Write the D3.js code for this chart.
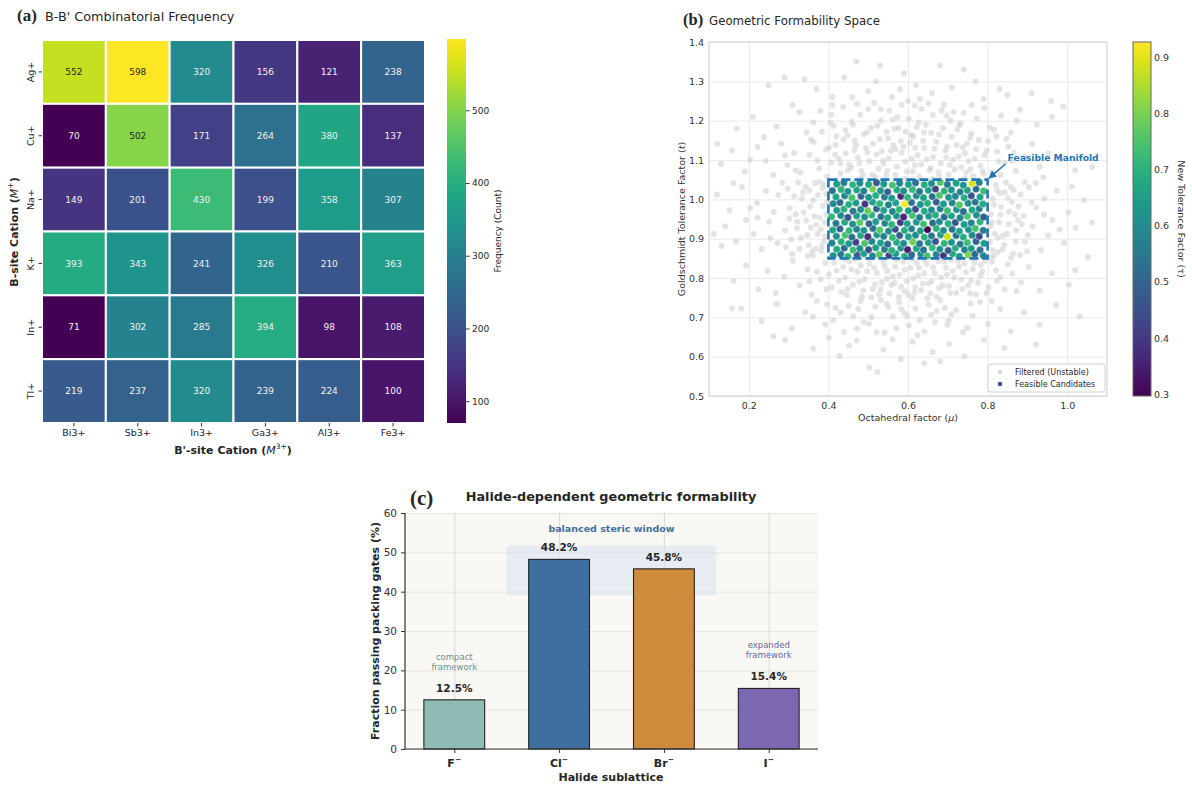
<!DOCTYPE html>
<html>
<head>
<meta charset="utf-8">
<script src="https://cdn.jsdelivr.net/npm/d3@7"></script>
<style>
body { margin: 0; background: #fff; }
text { font-family: "DejaVu Sans", sans-serif; fill: #262626; }
.serif { font-family: "Liberation Serif", serif; font-weight: bold; }
</style>
</head>
<body>
<svg id="fig" width="1192" height="788"></svg>
<script>
// ---------- data: panel (a)
var bSite = ["Ag+", "Cu+", "Na+", "K+", "In+", "Tl+"];
var bPrime = ["Bi3+", "Sb3+", "In3+", "Ga3+", "Al3+", "Fe3+"];
var freq = [
  [552, 598, 320, 156, 121, 238],
  [70, 502, 171, 264, 380, 137],
  [149, 201, 430, 199, 358, 307],
  [393, 343, 241, 326, 210, 363],
  [71, 302, 285, 394, 98, 108],
  [219, 237, 320, 239, 224, 100]
];
var freqTicks = [100, 200, 300, 400, 500];

// ---------- data: panel (b)  [mu, t]
var filteredPts = [
  [.47,1.35],[.53,1.34],[.68,1.34],[.74,1.33],[.44,1.31],[.59,1.32],[.29,1.31],[.62,1.29],[.77,1.3],[.83,1.28],[.37,1.28],[.66,1.27],[.71,1.285],[.50,1.275],[.56,1.26],[.85,1.265],[.63,1.255],[.41,1.26],[.91,1.27],[.25,1.29],[.58,1.28],[.34,1.305],[.79,1.255],[.52,1.3],[.96,1.25],[.46,1.26],
  [.21,1.21],[.27,1.185],[.31,1.24],[.345,1.17],[.38,1.225],[.405,1.195],[.42,1.16],[.437,1.235],[.462,1.19],[.48,1.215],[.497,1.17],[.515,1.245],[.532,1.2],[.553,1.225],[.566,1.18],[.584,1.24],[.602,1.205],[.613,1.16],[.634,1.23],[.645,1.19],[.662,1.215],[.678,1.165],[.69,1.24],[.707,1.2],[.724,1.178],[.74,1.22],[.756,1.156],[.773,1.205],[.792,1.232],[.805,1.182],[.834,1.213],[.858,1.17],[.881,1.228],[.924,1.19],[.962,1.21],[.238,1.158],[.362,1.196],[.448,1.162],[.523,1.187],[.594,1.172],[.652,1.244],[.715,1.222],[.822,1.16],[.99,1.236],[.17,1.18],[.561,1.203],[.622,1.184],[.684,1.226],[.472,1.243],[.733,1.193],[.873,1.2],[.327,1.222],[.55,1.155],[.6,1.25],[.76,1.24],[.5,1.23],[.41,1.24],[.64,1.17],
  [.13,1.09],[.158,1.124],[.19,1.071],[.222,1.133],[.243,1.098],[.262,1.062],[.281,1.142],[.297,1.087],[.314,1.118],[.33,1.068],[.352,1.113],[.363,1.146],[.377,1.079],[.394,1.127],[.408,1.094],[.418,1.139],[.431,1.066],[.443,1.117],[.452,1.088],[.466,1.149],[.474,1.106],[.483,1.072],[.494,1.131],[.503,1.097],[.512,1.141],[.526,1.078],[.534,1.122],[.545,1.061],[.551,1.104],[.563,1.137],[.572,1.083],[.584,1.119],[.593,1.096],[.605,1.144],[.612,1.071],[.624,1.112],[.633,1.089],[.641,1.131],[.654,1.074],[.663,1.108],[.671,1.147],[.683,1.092],[.694,1.124],[.702,1.063],[.713,1.101],[.722,1.138],[.734,1.081],[.743,1.118],[.752,1.097],[.764,1.059],[.771,1.128],[.782,1.086],[.793,1.113],[.801,1.148],[.812,1.069],[.824,1.121],[.843,1.093],[.852,1.134],[.871,1.072],[.893,1.109],[.912,1.141],[.931,1.083],[.953,1.117],[.984,1.101],[1.02,1.074],[.397,1.058],[.457,1.081],[.521,1.114],[.568,1.128],[.609,1.103],[.657,1.079],[.698,1.134],[.748,1.142],[.833,1.062],[.372,1.099],[.628,1.058],[.548,1.073],[.487,1.061],[.727,1.109],[.862,1.098],[.291,1.112],[.203,1.101],[.417,1.114],[.539,1.091],[.676,1.069],[.757,1.077],[.582,1.148],[.465,1.125],[.318,1.074],[.94,1.056],[.618,1.131],[.705,1.087],[.79,1.065],[.51,1.063],[.43,1.091],
  [.356,1.152],[.384,1.172],[.402,1.131],[.413,1.187],[.426,1.103],[.438,1.152],[.449,1.074],[.458,1.197],[.469,1.137],[.478,1.092],[.489,1.166],[.498,1.119],[.507,1.182],[.518,1.057],[.529,1.153],[.537,1.098],[.546,1.171],[.557,1.124],[.569,1.062],[.576,1.181],[.589,1.134],[.597,1.071],[.608,1.163],[.617,1.087],[.627,1.196],[.638,1.149],[.647,1.102],[.658,1.169],[.667,1.129],[.679,1.057],[.688,1.181],[.696,1.107],[.709,1.159],[.717,1.076],[.729,1.189],[.738,1.133],[.747,1.068],[.759,1.167],[.768,1.103],[.778,1.151],[.787,1.072],[.798,1.124],[.816,1.177],[.828,1.096],[.847,1.154],[.866,1.118],[.479,1.053],[.592,1.053],[.661,1.052],[.742,1.054],[.443,1.176],[.573,1.209],[.697,1.213],[.532,1.229],[.617,1.238],[.407,1.215],
  [.12,1.012],[.141,.931],[.152,.972],[.168,.893],[.183,1.031],[.193,.948],[.212,.912],[.221,.991],[.232,.874],[.243,1.021],[.251,.943],[.263,.968],[.272,.889],[.284,1.042],[.291,.921],[.303,.978],[.309,.861],[.314,1.008],[.322,.943],[.331,.902],[.338,.967],[.343,1.032],[.351,.883],[.356,.928],[.362,.998],[.365,.957],[.373,.912],[.377,1.044],[.382,.869],[.386,.983],[.391,.941],[.394,1.014],[.389,.893],[.361,.857],[.333,1.002],[.302,.951],[.274,1.011],[.203,.978],[.161,1.041],[.132,.882],[.293,.878],[.324,1.043],[.381,.924],[.352,1.022],[.254,.901],[.222,.953],[.368,.874],[.395,.962],[.344,.946],[.385,1.028],
  [.306,.898],[.318,.962],[.327,.874],[.336,1.018],[.347,.909],[.354,.982],[.359,.867],[.369,.936],[.374,1.011],[.379,.953],[.383,.881],[.388,1.038],[.392,.906],[.397,.993],[.366,1.041],[.348,.856],[.321,.927],[.298,1.027],
  [.812,.871],[.809,.962],[.823,1.024],[.818,.913],[.834,.981],[.842,.884],[.846,1.043],[.853,.937],[.861,.993],[.864,.862],[.872,.921],[.883,1.012],[.891,.958],[.894,.892],[.904,1.031],[.913,.931],[.922,.979],[.934,.871],[.943,1.002],[.952,.908],[.963,.948],[.974,1.022],[.992,.889],[1.003,.967],[1.021,.928],[1.042,.998],[1.062,.941],[.829,.942],[.851,1.003],[.869,.962],[.882,.858],[.901,.909],[.921,1.041],[.942,.961],[.981,.923],[1.012,1.032],[.813,1.002],[.838,.908],[.858,1.031],[.911,.992],[.808,.853],[.826,.866],[.877,.947],[.831,1.016],[.807,.931],
  [.806,.892],[.811,.941],[.816,.987],[.821,1.037],[.826,.902],[.832,.961],[.837,.873],[.843,1.018],[.848,.912],[.854,.969],[.859,.851],[.866,1.024],[.871,.892],[.878,.982],[.886,.937],[.893,1.044],[.899,.868],[.816,.856],
  [.162,.793],[.193,.832],[.224,.771],[.247,.818],[.268,.762],[.289,.803],[.311,.844],[.328,.781],[.347,.822],[.358,.758],[.381,.797],[.392,.838],[.408,.776],[.421,.819],[.433,.764],[.442,.801],[.452,.842],[.461,.783],[.473,.816],[.484,.752],[.491,.797],[.503,.836],[.511,.772],[.522,.813],[.534,.789],[.541,.831],[.553,.761],[.562,.804],[.571,.846],[.583,.778],[.592,.821],[.601,.757],[.613,.799],[.622,.838],[.633,.769],[.641,.812],[.652,.786],[.663,.827],[.672,.753],[.683,.801],[.691,.841],[.703,.779],[.712,.818],[.721,.762],[.734,.796],[.742,.837],[.751,.781],[.763,.823],[.771,.758],[.782,.806],[.793,.843],[.802,.776],[.821,.819],[.843,.771],[.862,.811],[.884,.789],[.903,.828],[.931,.768],[.962,.812],[1.004,.783],[.481,.832],[.527,.758],[.579,.808],[.628,.826],[.678,.774],[.728,.829],[.566,.787],[.618,.776],[.448,.772],[.401,.809],[.659,.792],[.517,.784],[.698,.808],[.548,.818],[.758,.794],[.352,.791],[.592,.766],[.708,.846],[.437,.828],[.642,.847],[.783,.833],[.823,.793],
  [.371,.816],[.395,.772],[.414,.839],[.427,.793],[.446,.757],[.458,.822],[.467,.848],[.478,.791],[.488,.768],[.497,.817],[.508,.751],[.515,.826],[.531,.771],[.538,.843],[.547,.798],[.558,.782],[.568,.829],[.577,.752],[.588,.841],[.597,.792],[.606,.826],[.616,.763],[.626,.807],[.637,.786],[.647,.836],[.656,.761],[.667,.812],[.676,.842],[.687,.781],[.696,.826],[.706,.762],[.716,.801],[.726,.844],[.737,.772],[.746,.815],[.756,.761],[.767,.839],[.776,.788],[.787,.817],[.797,.762],[.811,.841],[.832,.802],[.851,.835],[.873,.767],[.503,.849],[.612,.848],[.688,.849],[.441,.848],[.765,.849],
  [.181,.722],[.232,.691],[.271,.734],[.308,.672],[.342,.713],[.371,.741],[.392,.682],[.418,.724],[.439,.663],[.462,.703],[.481,.742],[.502,.684],[.518,.727],[.541,.661],[.562,.702],[.578,.738],[.602,.679],[.619,.722],[.641,.664],[.658,.706],[.681,.743],[.699,.681],[.721,.718],[.738,.662],[.762,.704],[.781,.739],[.801,.683],[.832,.721],[.858,.664],[.892,.712],[.931,.681],[.972,.731],[.412,.692],[.532,.744],[.591,.711],[.652,.732],[.709,.708],[.472,.671],[.571,.672],[.629,.693],[.692,.724],[.748,.673],[.361,.702],[.508,.701],[.611,.748],[.551,.726],[.668,.688],[.451,.729],
  [.431,.712],[.489,.688],[.546,.735],[.598,.703],[.648,.748],[.702,.692],[.757,.735],[.521,.662],[.624,.655],[.583,.721],[.672,.716],[.397,.733],[.811,.742],[.475,.721],
  [.291,.643],[.362,.621],[.428,.602],[.471,.641],[.503,.572],[.538,.618],[.582,.594],[.611,.638],[.662,.612],[.703,.632],[.742,.601],[.791,.643],[.842,.622],[.921,.631],[.401,.648],[.561,.644],[.641,.583],[.452,.628],[.523,.561],[.681,.588],
  [.112,.912],[.121,1.141],[1.052,.853],[1.031,.702],[1.063,1.082],[.158,.723],[.262,.652],[1.02,.82]
];
// [mu, t, tau]
var feasiblePts = [
  [.412,.857,.62],[.431,.861,.55],[.449,.855,.71],[.472,.859,.48],[.489,.862,.66],[.511,.856,.58],[.528,.86,.77],[.552,.857,.43],[.569,.862,.64],[.591,.855,.69],[.609,.859,.52],[.632,.861,.6],[.648,.856,.74],[.671,.86,.57],[.689,.857,.39],[.712,.862,.67],[.729,.855,.63],[.751,.859,.81],[.768,.861,.5],[.789,.857,.59],
  [.421,.873,.68],[.44,.876,.51],[.462,.871,.73],[.479,.875,.6],[.501,.872,.45],[.519,.877,.65],[.541,.873,.56],[.559,.87,.7],[.582,.876,.62],[.599,.872,.35],[.621,.875,.66],[.639,.871,.54],[.661,.877,.72],[.68,.873,.61],[.701,.87,.47],[.719,.876,.69],[.742,.872,.58],[.759,.875,.64],[.781,.871,.53],
  [.409,.889,.57],[.432,.892,.7],[.451,.887,.63],[.469,.891,.42],[.491,.888,.75],[.509,.893,.59],[.531,.889,.66],[.549,.886,.51],[.571,.891,.68],[.589,.888,.6],[.612,.892,.79],[.629,.887,.55],[.651,.89,.64],[.669,.893,.46],[.691,.888,.71],[.709,.891,.62],[.731,.886,.56],[.749,.89,.73],[.771,.893,.49],[.791,.888,.65],
  [.42,.906,.61],[.442,.909,.74],[.459,.904,.53],[.481,.908,.67],[.499,.905,.38],[.522,.91,.63],[.539,.906,.57],[.561,.903,.72],[.579,.908,.48],[.601,.905,.65],[.619,.909,.6],[.641,.904,.7],[.659,.907,.55],[.682,.91,.64],[.699,.905,.88],[.721,.908,.52],[.739,.904,.68],[.761,.909,.59],[.779,.906,.44],
  [.411,.922,.66],[.429,.925,.49],[.452,.92,.71],[.471,.924,.58],[.489,.921,.63],[.512,.926,.54],[.529,.922,.76],[.551,.919,.61],[.568,.924,.45],[.591,.921,.69],[.609,.925,.57],[.631,.92,.65],[.649,.923,.297],[.671,.926,.7],[.689,.921,.6],[.711,.924,.53],[.729,.919,.67],[.752,.923,.62],[.769,.926,.74],[.789,.921,.56],
  [.419,.939,.55],[.441,.942,.68],[.461,.937,.61],[.479,.941,.77],[.502,.938,.5],[.519,.943,.64],[.542,.939,.58],[.559,.936,.71],[.581,.941,.41],[.598,.938,.66],[.621,.942,.62],[.639,.937,.73],[.662,.94,.52],[.679,.943,.6],[.701,.938,.69],[.719,.941,.47],[.741,.936,.64],[.759,.94,.57],[.781,.943,.7],
  [.408,.956,.72],[.431,.959,.59],[.449,.954,.46],[.471,.958,.65],[.491,.955,.6],[.509,.96,.71],[.532,.956,.53],[.549,.953,.67],[.571,.958,.62],[.589,.955,.36],[.611,.959,.74],[.629,.954,.56],[.652,.957,.63],[.669,.96,.69],[.691,.955,.51],[.709,.958,.66],[.731,.953,.58],[.749,.957,.75],[.772,.96,.61],[.79,.955,.48],
  [.421,.972,.63],[.439,.975,.7],[.462,.97,.55],[.481,.974,.61],[.499,.971,.78],[.521,.976,.49],[.539,.972,.66],[.561,.969,.59],[.578,.974,.72],[.601,.971,.64],[.619,.975,.44],[.641,.97,.68],[.659,.973,.6],[.681,.976,.57],[.699,.971,.73],[.722,.974,.62],[.739,.969,.52],[.761,.973,.67],[.779,.976,.58],
  [.412,.989,.6],[.429,.992,.52],[.451,.987,.69],[.469,.991,.63],[.492,.988,.4],[.511,.993,.66],[.529,.989,.71],[.551,.986,.57],[.569,.991,.65],[.592,.988,.927],[.609,.992,.54],[.631,.987,.62],[.649,.99,.7],[.671,.993,.48],[.689,.988,.64],[.711,.991,.59],[.729,.986,.76],[.751,.99,.61],[.769,.993,.55],[.788,.988,.68],
  [.419,1.006,.67],[.441,1.009,.58],[.459,1.004,.74],[.482,1.008,.5],[.501,1.005,.62],[.519,1.01,.69],[.541,1.006,.56],[.559,1.003,.64],[.582,1.008,.37],[.599,1.005,.71],[.621,1.009,.6],[.639,1.004,.66],[.661,1.007,.53],[.679,1.01,.75],[.702,1.005,.63],[.719,1.008,.58],[.741,1.004,.69],[.759,1.009,.45],[.781,1.006,.65],
  [.41,1.022,.54],[.432,1.025,.7],[.449,1.02,.61],[.471,1.024,.67],[.489,1.021,.57],[.511,1.026,.8],[.531,1.022,.63],[.549,1.019,.49],[.572,1.024,.68],[.589,1.021,.6],[.611,1.025,.72],[.629,1.02,.55],[.651,1.023,.65],[.669,1.026,.42],[.691,1.021,.7],[.709,1.024,.62],[.731,1.019,.58],[.749,1.023,.66],[.771,1.026,.51],[.79,1.021,.73],
  [.421,1.039,.64],[.439,1.042,.56],[.461,1.037,.71],[.479,1.041,.6],[.501,1.038,.67],[.521,1.042,.47],[.539,1.039,.63],[.561,1.036,.74],[.579,1.041,.58],[.601,1.038,.65],[.619,1.042,.53],[.641,1.037,.69],[.659,1.04,.61],[.681,1.043,.76],[.699,1.038,.55],[.721,1.041,.66],[.739,1.036,.62],[.761,1.04,.89],[.779,1.043,.57]
];
var muTicks = [0.2, 0.4, 0.6, 0.8, 1.0];
var tTicks = [0.5, 0.6, 0.7, 0.8, 0.9, 1.0, 1.1, 1.2, 1.3, 1.4];
var tauTicks = [0.3, 0.4, 0.5, 0.6, 0.7, 0.8, 0.9];
var manifold = { mu: [0.4, 0.8], t: [0.85, 1.05] };

// ---------- data: panel (c)
var halides = ["F", "Cl", "Br", "I"];
var passFrac = [12.5, 48.2, 45.8, 15.4];
var halideColors = ["#8fbcb5", "#3f6fa0", "#d08a3c", "#7b68b0"];
var pctTicks = [0, 10, 20, 30, 40, 50, 60];

var svg = d3.select("#fig");
var defs = svg.append("defs");

function gradient(id, interp) {
  var g = defs.append("linearGradient").attr("id", id)
    .attr("x1", 0).attr("y1", 1).attr("x2", 0).attr("y2", 0);
  d3.range(0, 1.001, 0.05).forEach(function(s) {
    g.append("stop").attr("offset", s).attr("stop-color", interp(s));
  });
}
gradient("viridisA", d3.interpolateViridis);

// ================= (a) heatmap =================
var ax = d3.scaleBand().domain(bPrime).range([42, 425]);
var ay = d3.scaleBand().domain(bSite).range([40, 423]);
var cells = [];
bSite.forEach(function(r, i) {
  bPrime.forEach(function(c, j) { cells.push({ r: r, c: c, v: freq[i][j] }); });
});
var freqColor = d3.scaleSequential(d3.interpolateViridis).domain(d3.extent(cells, d => d.v));
var ga = svg.append("g");

ga.selectAll("rect.cell").data(cells).enter().append("rect")
  .attr("class", "cell")
  .attr("x", d => ax(d.c)).attr("y", d => ay(d.r))
  .attr("width", ax.bandwidth()).attr("height", ay.bandwidth())
  .attr("fill", d => freqColor(d.v))
  .attr("stroke", "#fff").attr("stroke-width", 2);

ga.selectAll("text.val").data(cells).enter().append("text")
  .attr("x", d => ax(d.c) + ax.bandwidth() / 2)
  .attr("y", d => ay(d.r) + ay.bandwidth() / 2)
  .attr("dy", "0.35em").attr("text-anchor", "middle")
  .attr("font-size", "9px")
  .style("fill", d => d.v > 465 ? "#262626" : "#f2f2f2")
  .text(d => d.v);

var axL = ga.append("g").attr("transform", "translate(42,0)")
  .call(d3.axisLeft(ay).tickSize(3.5));
axL.select(".domain").remove();
axL.selectAll(".tick line").attr("stroke", "#333");
axL.selectAll(".tick text").attr("transform", "rotate(-90)")
  .attr("x", 0).attr("y", -8).attr("dy", 0).attr("text-anchor", "middle")
  .attr("font-size", "9.5px").style("fill", "#262626");

var axB = ga.append("g").attr("transform", "translate(0,423)")
  .call(d3.axisBottom(ax).tickSize(3.5).tickPadding(2.5));
axB.select(".domain").remove();
axB.selectAll(".tick line").attr("stroke", "#333");
axB.selectAll(".tick text").attr("font-size", "9.5px").style("fill", "#262626");

var xt = ga.append("text").attr("x", 233).attr("y", 454).attr("text-anchor", "middle")
  .attr("font-size", "11px").attr("font-weight", "bold");
xt.append("tspan").text("B'-site Cation (");
xt.append("tspan").attr("font-style", "italic").attr("font-weight", "normal").text("M");
xt.append("tspan").attr("font-size", "7.5px").attr("dy", -5).attr("font-weight", "normal").text("3+");
xt.append("tspan").attr("dy", 5).text(")");

var yt = ga.append("text").attr("transform", "translate(18,232) rotate(-90)").attr("text-anchor", "middle")
  .attr("font-size", "11px").attr("font-weight", "bold");
yt.append("tspan").text("B-site Cation (");
yt.append("tspan").attr("font-style", "italic").attr("font-weight", "normal").text("M");
yt.append("tspan").attr("font-size", "7.5px").attr("dy", -5).attr("font-weight", "normal").text("+");
yt.append("tspan").attr("dy", 5).text(")");

// colorbar (a)
var cbA = d3.scaleLinear().domain(freqColor.domain()).range([423, 39]);
ga.append("rect").attr("x", 447).attr("y", 39).attr("width", 19).attr("height", 384)
  .attr("fill", "url(#viridisA)");
var cbAx = ga.append("g").attr("transform", "translate(466,0)")
  .call(d3.axisRight(cbA).tickValues(freqTicks).tickSize(3.5).tickPadding(2.5));
cbAx.select(".domain").remove();
cbAx.selectAll(".tick line").attr("stroke", "#333");
cbAx.selectAll(".tick text").attr("font-size", "9px").style("fill", "#262626");
ga.append("text").attr("transform", "translate(501,231) rotate(-90)").attr("text-anchor", "middle")
  .attr("font-size", "9px").text("Frequency (Count)");

svg.append("text").attr("class", "serif").attr("x", 17).attr("y", 21).attr("font-size", "17px").text("(a)");
svg.append("text").attr("x", 45).attr("y", 21).attr("font-size", "12.8px").text("B-B' Combinatorial Frequency");

// ================= (b) scatter =================
var bx = d3.scaleLinear().domain([0.1, 1.1]).range([709, 1107]);
var by = d3.scaleLinear().domain([0.5, 1.4]).range([396, 42]);
var tauColor = d3.scaleSequential(d3.interpolateViridis).domain(d3.extent(feasiblePts, d => d[2]));
var gb = svg.append("g");

defs.append("clipPath").attr("id", "clipB").append("rect")
  .attr("x", 709).attr("y", 42).attr("width", 398).attr("height", 354);

var gx = gb.append("g").attr("transform", "translate(0,396)")
  .call(d3.axisBottom(bx).tickValues(muTicks).tickFormat(d3.format(".1f")).tickSize(-354).tickPadding(6));
var gy = gb.append("g").attr("transform", "translate(709,0)")
  .call(d3.axisLeft(by).tickValues(tTicks).tickFormat(d3.format(".1f")).tickSize(-398).tickPadding(5));
[gx, gy].forEach(function(g) {
  g.select(".domain").remove();
  g.selectAll(".tick line").attr("stroke", "#e6e6e6").attr("stroke-width", 0.9);
  g.selectAll(".tick text").attr("font-size", "9.5px").style("fill", "#333");
});

var pts = gb.append("g").attr("clip-path", "url(#clipB)");
pts.selectAll("circle.f").data(filteredPts).enter().append("circle")
  .attr("cx", d => bx(d[0])).attr("cy", d => by(d[1])).attr("r", 3.1)
  .attr("fill", "#c8c8c8").attr("fill-opacity", 0.5)
  .attr("stroke", "#fff").attr("stroke-width", 0.3);
pts.selectAll("circle.k").data(feasiblePts).enter().append("circle")
  .attr("cx", d => bx(d[0])).attr("cy", d => by(d[1])).attr("r", 3.7)
  .attr("fill", d => tauColor(d[2]))
  .attr("stroke", "#fff").attr("stroke-width", 0.4);

gb.append("rect")
  .attr("x", bx(manifold.mu[0])).attr("y", by(manifold.t[1]))
  .attr("width", bx(manifold.mu[1]) - bx(manifold.mu[0]))
  .attr("height", by(manifold.t[0]) - by(manifold.t[1]))
  .attr("fill", "none").attr("stroke", "#1f77b4").attr("stroke-width", 2.6)
  .attr("stroke-dasharray", "9,4");

gb.append("rect").attr("x", 709).attr("y", 42).attr("width", 398).attr("height", 354)
  .attr("fill", "none").attr("stroke", "#d4d4d4").attr("stroke-width", 1.2);

defs.append("marker").attr("id", "arrowB").attr("viewBox", "0 0 10 10")
  .attr("refX", 9).attr("refY", 5).attr("markerWidth", 5).attr("markerHeight", 5)
  .attr("orient", "auto").append("path").attr("d", "M0,0 L10,5 L0,10 z").attr("fill", "#1f77b4");
gb.append("line")
  .attr("x1", bx(0.85) - 2).attr("y1", by(1.1) + 4)
  .attr("x2", bx(manifold.mu[1]) + 1.5).attr("y2", by(manifold.t[1]) - 1.5)
  .attr("stroke", "#1f77b4").attr("stroke-width", 1.6).attr("marker-end", "url(#arrowB)");
gb.append("text").attr("x", bx(0.85)).attr("y", by(1.1) + 1)
  .attr("font-size", "9.2px").attr("font-weight", "bold").style("fill", "#1f77b4")
  .text("Feasible Manifold");

// legend
var lg = gb.append("g").attr("transform", "translate(988,364)");
lg.append("rect").attr("width", 117).attr("height", 28).attr("rx", 3)
  .attr("fill", "#fff").attr("fill-opacity", 0.85).attr("stroke", "#d0d0d0");
lg.append("circle").attr("cx", 12).attr("cy", 8).attr("r", 2.3).attr("fill", "#d6d6d6");
lg.append("text").attr("x", 27).attr("y", 10.8).attr("font-size", "8px").text("Filtered (Unstable)");
lg.append("circle").attr("cx", 12).attr("cy", 20).attr("r", 2.3).attr("fill", "#3b528b");
lg.append("text").attr("x", 27).attr("y", 22.8).attr("font-size", "8px").text("Feasible Candidates");

gb.append("text").attr("x", 908).attr("y", 421).attr("text-anchor", "middle").attr("font-size", "9.5px")
  .style("fill", "#333").html("Octahedral factor (<tspan font-style='italic'>μ</tspan>)");
gb.append("text").attr("transform", "translate(685,219) rotate(-90)").attr("text-anchor", "middle")
  .attr("font-size", "9.5px").style("fill", "#333")
  .html("Goldschmidt Tolerance Factor (<tspan font-style='italic'>t</tspan>)");

// colorbar (b)
var cbB = d3.scaleLinear().domain(tauColor.domain()).range([396, 42]);
gb.append("rect").attr("x", 1133).attr("y", 42).attr("width", 18).attr("height", 354)
  .attr("fill", "url(#viridisA)").attr("stroke", "#666").attr("stroke-width", 1);
var cbBx = gb.append("g").attr("transform", "translate(1151,0)")
  .call(d3.axisRight(cbB).tickValues(tauTicks).tickFormat(d3.format(".1f")).tickSize(0).tickPadding(3));
cbBx.select(".domain").remove();
cbBx.selectAll(".tick text").attr("font-size", "9.5px").style("fill", "#333");
gb.append("text").attr("transform", "translate(1178,219) rotate(90)").attr("text-anchor", "middle")
  .attr("font-size", "9.5px").style("fill", "#333").text("New Tolerance Factor (τ)");

svg.append("text").attr("class", "serif").attr("x", 683).attr("y", 25).attr("font-size", "16.5px").text("(b)");
svg.append("text").attr("x", 709).attr("y", 25).attr("font-size", "11.8px").text("Geometric Formability Space");

// ================= (c) bars =================
var cx = d3.scaleLinear().domain([-0.47, 3.47]).range([405, 818]);
var cy = d3.scaleLinear().domain([0, 60]).range([749, 513]);
var barW = 0.58;
var gc = svg.append("g");

gc.append("rect").attr("x", 405).attr("y", 513).attr("width", 413).attr("height", 236).attr("fill", "#faf8f5");

var gcy = gc.append("g").attr("transform", "translate(405,0)")
  .call(d3.axisLeft(cy).tickValues(pctTicks).tickSize(-413).tickPadding(8));
gcy.select(".domain").remove();
gcy.selectAll(".tick line").attr("stroke", "#e4e2df").attr("stroke-width", 0.9);
gcy.selectAll(".tick text").attr("font-size", "10.5px").style("fill", "#333");
var gcx = gc.append("g").attr("transform", "translate(0,749)")
  .call(d3.axisBottom(cx).tickValues(d3.range(halides.length)).tickFormat("").tickSize(-236));
gcx.select(".domain").remove();
gcx.selectAll(".tick line").attr("stroke", "#d6d4d1").attr("stroke-width", 0.9);

// small outward ticks
gc.append("g").attr("transform", "translate(405,0)")
  .call(d3.axisLeft(cy).tickValues(pctTicks).tickSize(4).tickFormat(""))
  .call(g => g.select(".domain").remove()).selectAll("line").attr("stroke", "#333");
gc.append("g").attr("transform", "translate(0,749)")
  .call(d3.axisBottom(cx).tickValues(d3.range(halides.length)).tickSize(4).tickFormat(""))
  .call(g => g.select(".domain").remove()).selectAll("line").attr("stroke", "#333");

// balanced steric window
gc.append("rect").attr("x", cx(0.5)).attr("y", cy(51.8))
  .attr("width", cx(2.5) - cx(0.5)).attr("height", cy(39) - cy(51.8))
  .attr("fill", "#dbe5f1").attr("fill-opacity", 0.6);
gc.append("text").attr("x", cx(1.5)).attr("y", cy(55.2)).attr("text-anchor", "middle")
  .attr("font-size", "9.5px").attr("font-weight", "bold").style("fill", "#3f6fa0")
  .text("balanced steric window");

var bars = halides.map(function(h, i) { return { h: h, v: passFrac[i], c: halideColors[i], i: i }; });
gc.selectAll("rect.bar").data(bars).enter().append("rect")
  .attr("x", d => cx(d.i - barW / 2)).attr("y", d => cy(d.v))
  .attr("width", cx(barW) - cx(0)).attr("height", d => cy(0) - cy(d.v))
  .attr("fill", d => d.c).attr("stroke", "#222").attr("stroke-width", 1.1);
gc.selectAll("text.vl").data(bars).enter().append("text")
  .attr("x", d => cx(d.i)).attr("y", d => cy(d.v) - 8)
  .attr("text-anchor", "middle").attr("font-size", "10.5px").attr("font-weight", "bold")
  .text(d => d.v.toFixed(1) + "%");

function note(i, lines, color) {
  var y0 = cy(passFrac[i]) - 8;
  lines.forEach(function(s, k) {
    gc.append("text").attr("x", cx(i)).attr("y", y0 - 32 + k * 10).attr("text-anchor", "middle")
      .attr("font-size", "8.5px").style("fill", color).text(s);
  });
}
note(0, ["compact", "framework"], "#6d8f8a");
note(3, ["expanded", "framework"], "#6a639f");

gc.append("line").attr("x1", 405).attr("x2", 405).attr("y1", 513).attr("y2", 749).attr("stroke", "#333").attr("stroke-width", 1.2);
gc.append("line").attr("x1", 405).attr("x2", 818).attr("y1", 749).attr("y2", 749).attr("stroke", "#333").attr("stroke-width", 1.2);

gc.selectAll("text.xl").data(bars).enter().append("text")
  .attr("x", d => cx(d.i)).attr("y", 767).attr("text-anchor", "middle")
  .attr("font-size", "11px").attr("font-weight", "bold")
  .each(function(d) {
    var t = d3.select(this);
    t.append("tspan").text(d.h);
    t.append("tspan").attr("dy", -5).attr("font-size", "7.5px").text("−");
  });

gc.append("text").attr("x", 611).attr("y", 781).attr("text-anchor", "middle")
  .attr("font-size", "11px").attr("font-weight", "bold").text("Halide sublattice");
gc.append("text").attr("transform", "translate(379,631) rotate(-90)").attr("text-anchor", "middle")
  .attr("font-size", "11px").attr("font-weight", "bold").text("Fraction passing packing gates (%)");

svg.append("text").attr("class", "serif").attr("x", 410).attr("y", 505).attr("font-size", "21px").text("(c)");
svg.append("text").attr("x", 611).attr("y", 501).attr("text-anchor", "middle")
  .attr("font-size", "12.8px").attr("font-weight", "bold").text("Halide-dependent geometric formability");
</script>
</body>
</html>
